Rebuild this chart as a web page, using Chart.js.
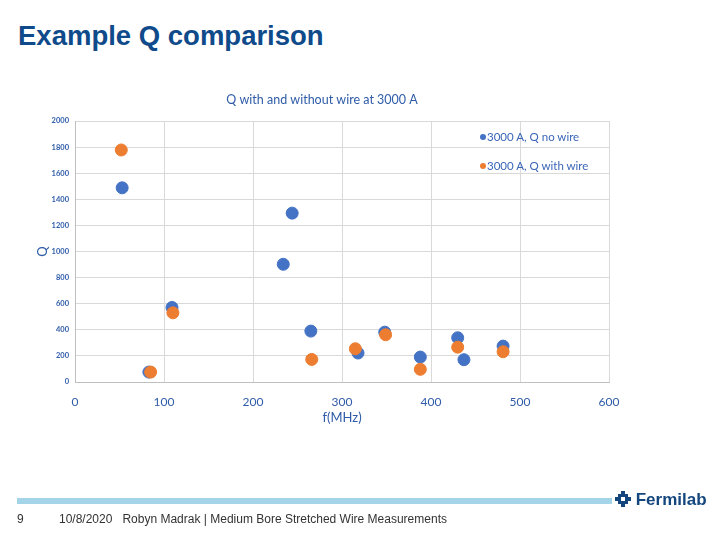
<!DOCTYPE html>
<html>
<head>
<meta charset="utf-8">
<script src="https://cdn.jsdelivr.net/npm/chart.js@4"></script>
<style>
  body { margin: 0; background: #fff; }
  #page { position: relative; width: 720px; height: 540px; overflow: hidden; font-family: "Liberation Sans", Arial, sans-serif; }
  #slideTitle { position: absolute; left: 18px; top: 20px; font-size: 27.5px; font-weight: bold; color: #0f4a8a; }
  #chartBox { position: absolute; left: 0; top: 0; width: 720px; height: 540px; }
  #legend { position: absolute; left: 480px; top: 128px; font-family: Lato, sans-serif; font-size: 11.5px; color: #3a66b8; }
  #legend div { height: 29px; line-height: 17px; }
  #legend span.dot { display: inline-block; width: 6px; height: 6px; border-radius: 3px; margin-right: 1px; vertical-align: 1px; }
  #bar { position: absolute; left: 17px; top: 498px; width: 595px; height: 6px; background: #a4d4e8; }
  #logo { position: absolute; left: 615px; top: 490px; font-size: 17px; font-weight: bold; color: #14467e; }
  #pageNo { position: absolute; left: 17px; top: 512px; font-size: 12px; color: #333; }
  #foot { position: absolute; left: 59px; top: 512px; font-size: 12px; color: #333; }
</style>
</head>
<body>
<div id="page">
  <div id="slideTitle">Example Q comparison</div>
  <div id="chartBox"><canvas id="chartjs-0" width="720" height="540"></canvas></div>
  <div id="legend">
    <div><span class="dot" style="background:#4472c4"></span>3000 A, Q no wire</div>
    <div><span class="dot" style="background:#ed7d31"></span>3000 A, Q with wire</div>
  </div>
  <div id="bar"></div>
  <div id="logo"><svg width="16" height="16" viewBox="0 0 16 16" style="vertical-align:-2px"><path d="M6 0h4v4h-4zM6 12h4v4h-4zM0 6h4v4h-4zM12 6h4v4h-4zM3 3h10v10h-10z" fill="#14467e"/><rect x="6" y="6" width="4" height="4" fill="#fff"/></svg> Fermilab</div>
  <div id="pageNo">9</div>
  <div id="foot">10/8/2020&nbsp;&nbsp;&nbsp;Robyn Madrak | Medium Bore Stretched Wire Measurements</div>
</div>
<script>
"use strict";

/* frequencies (MHz) and Q values */
var freqNoWire = [53, 83, 109, 234, 244, 265, 318, 348, 388, 430, 437, 481];
var qNoWire    = [1488, 76, 571, 902, 1294, 390, 222, 382, 191, 339, 171, 275];

var freqWithWire = [52, 85, 110, 266, 315, 349, 388, 430, 481];
var qWithWire    = [1778, 76, 530, 173, 255, 362, 97, 267, 232];

var xTicks = [0, 100, 200, 300, 400, 500, 600];
var yTicks = [0, 200, 400, 600, 800, 1000, 1200, 1400, 1600, 1800, 2000];

function toPoints(xs, ys) {
    var pts = [];
    for (var i = 0; i < xs.length; i++) {
        pts.push({ x: xs[i], y: ys[i] });
    }
    return pts;
}

var blue = "#4472c4";
var orange = "#ed7d31";
var textBlue = "#2f5ca8";
var gridGrey = "#d9d9d9";

var ctx = document.getElementById("chartjs-0");

var myChart = new Chart(ctx, {
    type: "scatter",
    data: {
        datasets: [{
            label: "3000 A, Q no wire",
            data: toPoints(freqNoWire, qNoWire),
            backgroundColor: blue,
            borderColor: blue,
            pointRadius: 6,
            pointHoverRadius: 6,
            order: 1
        }, {
            label: "3000 A, Q with wire",
            data: toPoints(freqWithWire, qWithWire),
            backgroundColor: orange,
            borderColor: orange,
            pointRadius: 6,
            pointHoverRadius: 6,
            order: 0   // orange sits on top of blue
        }]
    },
    options: {
        responsive: false,
        animation: false,
        layout: { padding: { left: 35, top: 92, right: 111, bottom: 110 } },
        plugins: {
            legend: { display: false },
            tooltip: { enabled: false },
            title: {
                display: true,
                text: "Q with and without wire at 3000 A",
                color: textBlue,
                font: { family: "Lato", size: 12.5, weight: "normal" },
                padding: { top: 0, bottom: 14 }
            }
        },
        scales: {
            x: {
                type: "linear",
                min: xTicks[0],
                max: xTicks[xTicks.length - 1],
                afterBuildTicks: function (scale) {
                    scale.ticks = xTicks.map(function (v) { return { value: v }; });
                },
                afterFit: function (scale) { scale.height = 48; },
                grid: { color: gridGrey, drawTicks: false },
                border: { color: "#bfbfbf" },
                ticks: {
                    color: textBlue,
                    font: { family: "Lato", size: 12 },
                    padding: 13,
                    callback: function (v) { return String(v); }
                },
                title: {
                    display: true,
                    text: "f(MHz)",
                    color: textBlue,
                    font: { family: "Lato", size: 13 },
                    padding: { top: 0, bottom: 4 }
                }
            },
            y: {
                type: "linear",
                min: yTicks[0],
                max: yTicks[yTicks.length - 1],
                afterBuildTicks: function (scale) {
                    scale.ticks = yTicks.map(function (v) { return { value: v }; });
                },
                afterFit: function (scale) { scale.width = 40; },
                grid: { color: gridGrey, drawTicks: false },
                border: { color: "#bfbfbf" },
                ticks: {
                    color: textBlue,
                    font: { family: "Lato", size: 7.5, weight: "bold" },
                    padding: 6,
                    callback: function (v) { return String(v); }
                },
                title: {
                    display: true,
                    text: "Q",
                    color: textBlue,
                    font: { family: "Lato", size: 13 },
                    padding: 0
                }
            }
        }
    }
});
</script>
</body>
</html>
